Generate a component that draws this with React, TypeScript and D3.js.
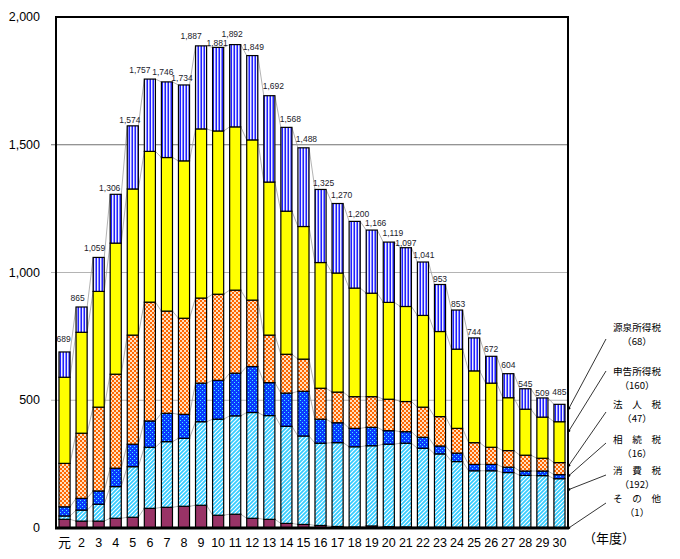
import { useEffect, useRef } from 'react';
import * as d3 from 'd3';

// fiscal years (Heisei), 億円
const years = ['元', '2', '3', '4', '5', '6', '7', '8', '9', '10', '11', '12', '13', '14', '15',
  '16', '17', '18', '19', '20', '21', '22', '23', '24', '25', '26', '27', '28', '29', '30'];

const sonota = [34, 27, 27, 38, 42, 77, 81, 85, 89, 50, 54, 38, 34, 18, 14, 10, 6, 4, 8, 5, 4, 3, 3, 2, 2, 2, 2, 2, 2, 1];
const shohi = [13, 43, 66, 124, 198, 239, 257, 266, 327, 376, 385, 414, 406, 380, 346, 322, 328, 314, 314, 323, 328, 309, 287, 258, 222, 222, 215, 204, 203, 192];
const sozoku = [36, 46, 52, 72, 88, 103, 111, 94, 151, 152, 167, 180, 129, 130, 175, 94, 78, 72, 72, 53, 45, 43, 31, 33, 25, 25, 21, 17, 18, 16];
const hojin = [170, 255, 328, 368, 427, 465, 400, 376, 333, 337, 325, 260, 186, 152, 126, 121, 120, 124, 120, 123, 118, 118, 115, 97, 85, 67, 65, 62, 50, 47];
const shinkoku = [337, 395, 453, 513, 572, 590, 601, 616, 662, 639, 639, 627, 599, 560, 519, 492, 466, 425, 405, 379, 372, 359, 333, 310, 281, 251, 207, 180, 161, 160];
const gensen = [99, 99, 133, 191, 247, 283, 296, 297, 325, 327, 322, 330, 338, 328, 308, 286, 272, 261, 247, 236, 230, 209, 184, 153, 129, 105, 94, 80, 75, 68];
const totals = [689, 865, 1059, 1306, 1574, 1757, 1746, 1734, 1887, 1881, 1892, 1849, 1692, 1568, 1488,
  1325, 1270, 1200, 1166, 1119, 1097, 1041, 953, 853, 744, 672, 604, 545, 509, 485];

const seriesKeys = ['sonota', 'shohi', 'sozoku', 'hojin', 'shinkoku', 'gensen'];
const seriesNames = ['そ　の　他', '消　費　税', '相　続　税', '法　人　税', '申告所得税', '源泉所得税'];
const yTicks = [0, 500, 1000, 1500, 2000];

// nudges for the total labels so they don't collide (px)
const labelDx = [-1, -4, -4, -6, -3, -10, -4, -2, -10, -1, -3, 1, 4, 4, 3, 3, 4, 4, 4, 4, 0, 1, 0, 1, 0, 0, 0, 0, 0, 0];
const labelDy = [-10, -6, -6, -3, -3, -6, -7, -4, -7, -1, -8, -6, -7, -5, -6, -3, -6, -4, -4, -6, -2, -4, -3, -3, -3, -4, -6, -2, -2, -9];

const fills: { [k: string]: string } = {
  sonota: '#993366',
  shohi: 'url(#pShohi)',
  sozoku: 'url(#pSozoku)',
  hojin: 'url(#pHojin)',
  shinkoku: '#ffff00',
  gensen: 'url(#pGensen)',
};

// where the callout labels sit on the right (centre y of the name)
const calloutY: { [k: string]: number } = {
  gensen: 327, shinkoku: 371, hojin: 404, sozoku: 439, shohi: 470, sonota: 498,
};
const calloutStart: { [k: string]: number } = {
  gensen: 339, shinkoku: 371, hojin: 412, sozoku: 443, shohi: 475, sonota: 503,
};

const W = 680;
const H = 559;

const App = () => {
  const svgRef = useRef<SVGSVGElement>(null);

  useEffect(() => {
    if (!svgRef.current) return;
    const svg = d3.select(svgRef.current);
    svg.selectAll('*').remove();

    const left = 56, right = 568, top = 17, bottom = 528;
    const jpFont = '"Noto Sans CJK JP", sans-serif';
    const numFont = '"Liberation Sans", Arial, sans-serif';

    const rows = years.map((yr, i) => ({
      year: yr,
      sonota: sonota[i], shohi: shohi[i], sozoku: sozoku[i],
      hojin: hojin[i], shinkoku: shinkoku[i], gensen: gensen[i],
    }));

    const x = d3.scaleBand()
      .domain(years)
      .range([left, right])
      .paddingInner(0.35)
      .paddingOuter(0.175);

    const y = d3.scaleLinear().domain([0, 2000]).range([bottom, top]);

    const stack = d3.stack<any>().keys(seriesKeys);
    const layers = stack(rows);

    // patterns
    const defs = svg.append('defs');
    const p1 = defs.append('pattern').attr('id', 'pShohi').attr('patternUnits', 'userSpaceOnUse')
      .attr('width', 4).attr('height', 4);
    p1.append('rect').attr('width', 4).attr('height', 4).attr('fill', '#33ccff');
    p1.append('path').attr('d', 'M-1,1 l2,-2 M0,4 l4,-4 M3,5 l2,-2')
      .attr('stroke', '#ffffff').attr('stroke-width', 1.1);

    const p2 = defs.append('pattern').attr('id', 'pSozoku').attr('patternUnits', 'userSpaceOnUse')
      .attr('width', 4).attr('height', 4);
    p2.append('rect').attr('width', 4).attr('height', 4).attr('fill', '#0a3cff');
    p2.append('rect').attr('x', 0).attr('y', 0).attr('width', 1).attr('height', 1).attr('fill', '#44eeff');
    p2.append('rect').attr('x', 2).attr('y', 2).attr('width', 1).attr('height', 1).attr('fill', '#44eeff');

    const p3 = defs.append('pattern').attr('id', 'pHojin').attr('patternUnits', 'userSpaceOnUse')
      .attr('width', 4).attr('height', 4);
    p3.append('rect').attr('width', 4).attr('height', 4).attr('fill', '#ffe0c0');
    p3.append('rect').attr('x', 0).attr('y', 0).attr('width', 2).attr('height', 2).attr('fill', '#ff6600');
    p3.append('rect').attr('x', 2).attr('y', 2).attr('width', 2).attr('height', 2).attr('fill', '#ff6600');

    const p4 = defs.append('pattern').attr('id', 'pGensen').attr('patternUnits', 'userSpaceOnUse')
      .attr('width', 3).attr('height', 3);
    p4.append('rect').attr('width', 3).attr('height', 3).attr('fill', '#8484ff');
    p4.append('rect').attr('x', 0).attr('width', 1).attr('height', 3).attr('fill', '#2020ff');
    p4.append('rect').attr('x', 1).attr('width', 1).attr('height', 3).attr('fill', '#eeeeff');

    svg.append('rect').attr('width', W).attr('height', H).attr('fill', '#ffffff');

    // gridlines
    svg.append('g')
      .selectAll('line')
      .data(yTicks.filter(t => t > 0 && t < 2000))
      .enter().append('line')
      .attr('x1', left - 5).attr('x2', right)
      .attr('y1', d => y(d)).attr('y2', d => y(d))
      .attr('stroke', d => (d === 1500 ? '#707070' : '#b4b4b4'))
      .attr('stroke-width', 1);

    // series lines between bars
    const bw = x.bandwidth();
    const conn = svg.append('g').attr('fill', 'none').attr('stroke', '#a0a0a0').attr('stroke-width', 0.8);
    layers.forEach(layer => {
      for (let i = 0; i < layer.length - 1; i++) {
        conn.append('line')
          .attr('x1', (x(years[i]) || 0) + bw).attr('y1', y(layer[i][1]))
          .attr('x2', x(years[i + 1]) || 0).attr('y2', y(layer[i + 1][1]));
      }
    });

    // bars
    svg.append('g')
      .selectAll('g')
      .data(layers)
      .enter().append('g')
      .attr('fill', d => fills[d.key])
      .selectAll('rect')
      .data(d => d)
      .enter().append('rect')
      .attr('x', d => x(d.data.year) || 0)
      .attr('y', d => y(d[1]))
      .attr('width', bw)
      .attr('height', d => y(d[0]) - y(d[1]))
      .attr('stroke', '#000')
      .attr('stroke-width', 1.2);

    // total labels
    svg.append('g')
      .selectAll('text')
      .data(totals)
      .enter().append('text')
      .attr('x', (d, i) => (x(years[i]) || 0) + bw / 2 + labelDx[i])
      .attr('y', (d, i) => y(d) + labelDy[i])
      .attr('text-anchor', 'middle')
      .attr('font-family', numFont)
      .attr('font-size', 8.5)
      .attr('fill', '#1a1a2a')
      .text(d => d3.format(',')(d));

    // frame
    svg.append('rect')
      .attr('x', left).attr('y', top)
      .attr('width', right - left).attr('height', bottom - top)
      .attr('fill', 'none').attr('stroke', '#000').attr('stroke-width', 2);
    svg.append('line')
      .attr('x1', left - 1).attr('x2', right + 1)
      .attr('y1', bottom).attr('y2', bottom)
      .attr('stroke', '#000').attr('stroke-width', 3);

    // y axis labels
    svg.append('g')
      .selectAll('text')
      .data(yTicks)
      .enter().append('text')
      .attr('x', 40)
      .attr('y', d => y(d) + 4)
      .attr('text-anchor', 'end')
      .attr('font-family', numFont)
      .attr('font-size', 12.5)
      .attr('fill', '#000')
      .text(d => d3.format(',')(d));

    // x axis labels
    svg.append('g')
      .selectAll('text')
      .data(years)
      .enter().append('text')
      .attr('x', d => (x(d) || 0) + bw / 2)
      .attr('y', 547)
      .attr('text-anchor', 'middle')
      .attr('font-family', d => (d === '元' ? jpFont : numFont))
      .attr('font-size', d => (d === '元' ? 13 : 12.5))
      .attr('fill', '#000')
      .text(d => d);

    svg.append('text')
      .attr('x', 609).attr('y', 543)
      .attr('text-anchor', 'middle')
      .attr('font-family', jpFont)
      .attr('font-size', 13)
      .attr('fill', '#000')
      .text('（年度）');

    // callouts for last year
    const last = layers.map(l => l[l.length - 1]);
    const callouts = svg.append('g');
    seriesKeys.forEach((key, k) => {
      const seg = last[k];
      const endY = y(seg[0] + (seg[1] - seg[0]) * 0.78);
      callouts.append('line')
        .attr('x1', 606).attr('y1', calloutStart[key])
        .attr('x2', right + 1).attr('y2', endY)
        .attr('stroke', '#000').attr('stroke-width', 0.8);
      callouts.append('circle')
        .attr('cx', right + 1).attr('cy', endY).attr('r', 1.3).attr('fill', '#000');
      callouts.append('text')
        .attr('x', 637).attr('y', calloutY[key] + 3.5)
        .attr('text-anchor', 'middle')
        .attr('font-family', jpFont)
        .attr('font-size', 9.6)
        .attr('fill', '#000')
        .text(seriesNames[k]);
      const val = (rows[rows.length - 1] as any)[key];
      callouts.append('text')
        .attr('x', 637).attr('y', calloutY[key] + 17.5)
        .attr('text-anchor', 'middle')
        .attr('font-family', jpFont)
        .attr('font-size', 9.6)
        .attr('fill', '#000')
        .text(`（${val}）`);
    });
  }, []);

  return (
    <svg
      ref={svgRef}
      width={W}
      height={H}
      style={{ position: 'absolute', left: 0, top: 0, display: 'block' }}
    />
  );
};

export default App;
